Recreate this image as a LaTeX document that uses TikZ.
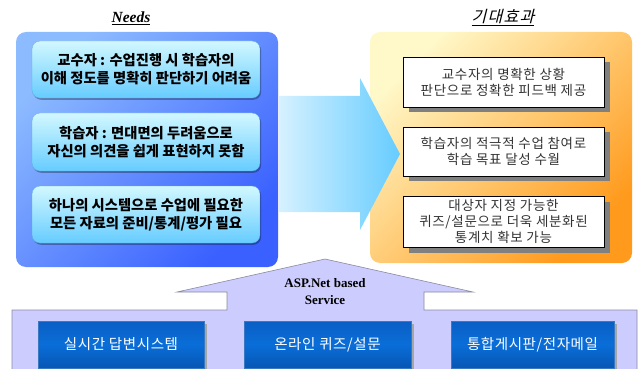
\documentclass[tikz,border=0pt]{standalone}
\usepackage{fontspec}
\setmainfont{Liberation Serif}
\newfontfamily\kr{Noto Sans CJK KR}
\newfontfamily\krsp{Noto Sans CJK KR}[LetterSpace=5]
\newfontfamily\krsvc{Noto Sans CJK KR}[LetterSpace=4]
\newfontfamily\krslant{Noto Sans CJK KR}[FakeSlant=0.25, LetterSpace=8]
\usetikzlibrary{shadows}
\definecolor{blueL}{HTML}{8DBBFF}
\definecolor{blueD}{HTML}{3A60FF}
\definecolor{cyanT}{HTML}{D2F8FF}
\definecolor{cyanB}{HTML}{66CCFF}
\definecolor{cyanE}{HTML}{5AA8E0}
\definecolor{orgL}{HTML}{FFF8C8}
\definecolor{orgD}{HTML}{FF9A1C}
\definecolor{arrL}{HTML}{D6F1FF}
\definecolor{arrR}{HTML}{66CCFF}
\definecolor{lav}{HTML}{CCCCFF}
\definecolor{lavE}{HTML}{8A8AA0}
\definecolor{svcT}{HTML}{0A5EC4}
\definecolor{svcM}{HTML}{0A6ED8}
\definecolor{svcB}{HTML}{0756B4}
\definecolor{txtG}{HTML}{333333}
\begin{document}
\begin{tikzpicture}[x=1pt,y=-1pt,
  panel/.style={rounded corners=10pt, inner sep=0pt},
  needbox/.style={rounded corners=8pt, top color=cyanT, bottom color=cyanB, draw=cyanE, line width=0.3pt,
    minimum width=228pt, align=center, inner sep=0pt,
    font=\kr\bfseries\fontsize{14.3}{18}\selectfont,
    drop shadow={shadow xshift=1.2pt, shadow yshift=-1.8pt, fill=black, opacity=0.3}},
  effbox/.style={draw=black, fill=white, line width=0.6pt, minimum width=201pt, align=center, inner sep=0pt,
    text=txtG, font=\krsp\fontsize{13.5}{16}\selectfont,
    drop shadow={shadow xshift=5.5pt, shadow yshift=-5.5pt, fill=gray, opacity=1}},
  svcbox/.style={top color=svcT, bottom color=svcB, middle color=svcM, draw=svcB!80!white, line width=0.4pt,
    minimum height=47pt, inner sep=0pt, text=white, font=\krsvc\fontsize{14.5}{16}\selectfont,
    drop shadow={shadow xshift=3pt, shadow yshift=-2.5pt, fill=black!35, opacity=1}},
  titletext/.style={inner sep=0pt}]
\useasboundingbox (0,0) rectangle (641,369);

% titles
\node[titletext, font=\bfseries\itshape\fontsize{15.5}{18}\selectfont] (needs) at (131,18) {\underline{Needs}};
\node[titletext, font=\krslant\fontsize{16}{18}\selectfont] (effect) at (503,18) {\underline{기대효과}};

% left panel
\node[panel, left color=blueL, right color=blueD, shading angle=45, minimum width=262pt, minimum height=235pt] (left) at (147,149.5) {};

% right panel
\node[panel, left color=orgL, right color=orgD, shading angle=45, minimum width=262pt, minimum height=231pt] (right) at (501,147.5) {};

% big arrow
\shade[left color=arrL, right color=arrR] (279,96) -- (360,96) -- (360,78) -- (400,154) -- (360,230) -- (360,212) -- (279,212) -- cycle;

% need boxes
\node[needbox, minimum height=57pt] (n1) at (146,69.5) {교수자 : 수업진행 시 학습자의\\이해 정도를 명확히 판단하기 어려움};
\node[needbox, minimum height=58pt] (n2) at (146,142) {학습자 : 면대면의 두려움으로\\자신의 의견을 쉽게 표현하지 못함};
\node[needbox, minimum height=57pt] (n3) at (146,214.5) {하나의 시스템으로 수업에 필요한\\모든 자료의 준비/통계/평가 필요};

% effect boxes
\node[effbox, minimum height=50pt] (e1) at (503.5,82) {교수자의 명확한 상황\\판단으로 정확한 피드백 제공};
\node[effbox, minimum height=49pt] (e2) at (503.5,151.5) {학습자의 적극적 수업 참여로\\학습 목표 달성 수월};
\node[effbox, minimum height=51pt] (e3) at (503.5,221.5) {대상자 지정 가능한\\퀴즈/설문으로 더욱 세분화된\\통계치 확보 가능};

% house-shaped service base
\draw[fill=lav, draw=lavE, line width=0.6pt] (325,259) -- (473,292) -- (424,292) -- (424,310) -- (637,310) -- (637,375) -- (12,375) -- (12,310) -- (227,310) -- (227,292) -- (177,292) -- cycle;
\node[inner sep=0pt, align=center, font=\bfseries\fontsize{13}{17}\selectfont] (asp) at (325,292) {ASP.Net based\\Service};

% service boxes
\node[svcbox, minimum width=166pt] (s1) at (121,344.5) {실시간 답변시스템};
\node[svcbox, minimum width=167pt] (s2) at (327.5,344.5) {온라인 퀴즈/설문};
\node[svcbox, minimum width=163pt] (s3) at (532.5,344.5) {통합게시판/전자메일};
\end{tikzpicture}
\end{document}
